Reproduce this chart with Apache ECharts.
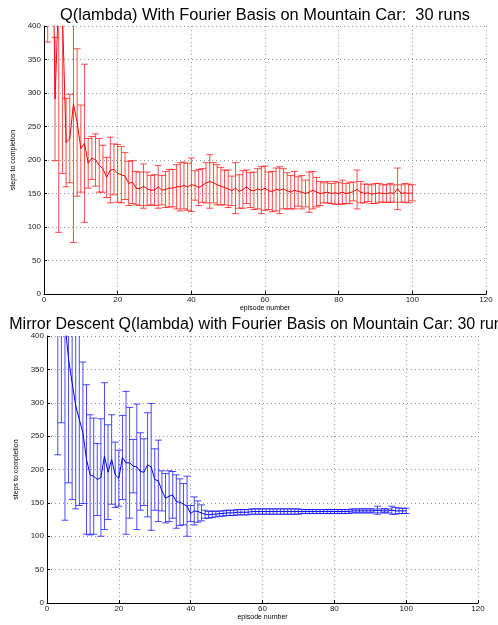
<!DOCTYPE html>
<html>
<head>
<meta charset="utf-8">
<script src="https://cdn.jsdelivr.net/npm/echarts@6/dist/echarts.min.js"></script>
<style>
  html, body { margin: 0; padding: 0; background: #fff; }
  #main { width: 498px; height: 625px; }
</style>
</head>
<body>
<div id="main"></div>
<script>
// episodes 1..100
var episodes = [];
for (var i = 1; i <= 100; i++) episodes.push(i);

// Q(lambda): mean steps and error half-width per episode
var qMean = [620, 700, 291, 450, 420, 226, 232, 284, 256, 217,
  225, 195, 203, 200, 192, 187, 174, 185, 186, 180,
  178, 176, 165, 167, 158, 157, 161, 157, 155, 155,
  160, 155, 156, 158, 158, 160, 160, 162, 160, 163,
  162, 159, 162, 166, 168, 166, 163, 161, 159, 157,
  154, 158, 153, 156, 160, 155, 154, 157, 155, 158,
  154, 153, 156, 155, 157, 154, 152, 155, 153, 152,
  150, 152, 155, 152, 150, 151, 152, 150, 151, 150,
  152, 150, 151, 153, 156, 152, 150, 151, 149, 150,
  151, 150, 150, 151, 150, 157, 150, 151, 150, 151];
var qErr = [244, 250, 92, 358, 240, 66, 66, 207, 110, 65,
  118, 37, 32, 39, 40, 35, 30, 49, 38, 43,
  42, 35, 33, 32, 25, 25, 33, 25, 22, 23,
  32, 22, 27, 28, 28, 33, 36, 35, 35, 40,
  22, 27, 25, 30, 40, 30, 30, 28, 26, 28,
  22, 38, 25, 28, 25, 26, 28, 30, 35, 33,
  28, 30, 32, 35, 30, 27, 25, 28, 22, 25,
  20, 30, 28, 22, 18, 15, 16, 15, 17, 16,
  18, 15, 16, 14, 29, 16, 14, 13, 14, 15,
  14, 13, 13, 14, 13, 31, 13, 14, 14, 12];

// Mirror Descent Q(lambda)
var mdMean = [900, 750, 520, 480, 420, 365, 330, 295, 275, 255,
  215, 192, 190, 185, 188, 220, 196, 215, 192, 187,
  218, 210, 210, 205, 204, 197, 196, 207, 204, 185,
  183, 168, 157, 160, 162, 152, 151, 148, 145, 134,
  138, 137, 135, 133, 132, 133, 133, 134, 134, 135,
  135, 135, 136, 136, 136, 136, 137, 137, 137, 137,
  137, 137, 137, 137, 137, 137, 137, 137, 137, 137,
  137, 137, 137, 137, 137, 137, 137, 137, 137, 137,
  137, 137, 137, 137, 138, 138, 138, 138, 138, 138,
  138, 139, 138, 138, 138, 139, 138, 138, 138, 138];
var mdErr = [350, 300, 298, 210, 296, 185, 175, 154, 129, 106,
  112, 90, 87, 54, 88, 110, 71, 67, 49, 42,
  63, 107, 83, 40, 94, 58, 50, 78, 95, 46,
  61, 30, 37, 38, 35, 40, 35, 31, 45, 12,
  21, 16, 12, 6, 5, 5, 4, 4, 4, 4,
  4, 4, 4, 4, 4, 4, 4, 4, 4, 4,
  4, 4, 4, 4, 4, 4, 4, 4, 4, 4,
  3, 3, 3, 3, 3, 3, 3, 3, 3, 3,
  3, 3, 3, 3, 3, 3, 3, 3, 3, 3,
  3, 6, 3, 3, 3, 6, 5, 4, 4, 4];

var xTicks = [0, 20, 40, 60, 80, 100, 120];
var yTicks = [0, 50, 100, 150, 200, 250, 300, 350, 400];

var FONT = 'Liberation Sans, Arial, Helvetica, sans-serif';

function pairs(mean) {
  return episodes.map(function (e, i) { return [e, mean[i]]; });
}
function bars(mean, err) {
  return episodes.map(function (e, i) { return [e, mean[i] - err[i], mean[i] + err[i]]; });
}

function errItem(params, api) {
  var x = api.value(0);
  var top = api.coord([x, api.value(2)]);
  var bot = api.coord([x, api.value(1)]);
  var hw = 3.5;
  var st = { stroke: api.visual('color'), lineWidth: 1 };
  return {
    type: 'group',
    children: [
      { type: 'line', shape: { x1: top[0], y1: top[1], x2: bot[0], y2: bot[1] }, style: st },
      { type: 'line', shape: { x1: top[0] - hw, y1: top[1], x2: top[0] + hw, y2: top[1] }, style: st },
      { type: 'line', shape: { x1: bot[0] - hw, y1: bot[1], x2: bot[0] + hw, y2: bot[1] }, style: st }
    ]
  };
}

function xAx(idx, gap) {
  return {
    gridIndex: idx, type: 'value', min: xTicks[0], max: xTicks[xTicks.length - 1], interval: 20,
    name: 'episode number', nameLocation: 'middle', nameGap: gap,
    nameTextStyle: { fontSize: 7, color: '#000', fontFamily: FONT },
    axisLine: { onZero: false, lineStyle: { color: '#000', width: 1 } },
    axisTick: { inside: true, length: 3, lineStyle: { color: '#000' } },
    axisLabel: { fontSize: 8, color: '#222', margin: 2, fontFamily: FONT },
    splitLine: { show: true, lineStyle: { color: '#999', type: [1, 3], width: 1 } }
  };
}
function yAx(idx) {
  return {
    gridIndex: idx, type: 'value', min: yTicks[0], max: yTicks[yTicks.length - 1], interval: 50,
    name: 'steps to completion', nameLocation: 'middle', nameGap: 20, nameRotate: 90,
    nameTextStyle: { fontSize: 7, color: '#000', fontFamily: FONT },
    axisLine: { show: true, lineStyle: { color: '#000', width: 1 } },
    axisTick: { show: true, inside: true, length: 3, lineStyle: { color: '#000' } },
    axisLabel: { fontSize: 8, color: '#222', margin: 3, fontFamily: FONT },
    splitLine: { show: true, lineStyle: { color: '#999', type: [1, 3], width: 1 } }
  };
}

var chart = echarts.init(document.getElementById('main'));
var option = {
  animation: false,
  backgroundColor: '#fff',
  graphic: [
    { type: 'text', x: 265, y: 15, style: { text: 'Q(lambda) With Fourier Basis on Mountain Car:  30 runs', font: '16.4px ' + FONT, fill: '#000', align: 'center', verticalAlign: 'middle' } },
    { type: 'text', x: 260, y: 325, style: { text: 'Mirror Descent Q(lambda) with Fourier Basis on Mountain Car: 30 runs', font: '16px ' + FONT, fill: '#000', align: 'center', verticalAlign: 'middle' } }
  ],
  grid: [
    { left: 44, top: 26, width: 442, height: 268 },
    { left: 47, top: 336, width: 431, height: 267 }
  ],
  xAxis: [xAx(0, 10), xAx(1, 11)],
  yAxis: [yAx(0), yAx(1)],
  series: [
    { type: 'custom', xAxisIndex: 0, yAxisIndex: 0, clip: true, renderItem: errItem,
      itemStyle: { color: 'rgba(255,0,0,0.7)' }, data: bars(qMean, qErr), z: 2 },
    { type: 'line', xAxisIndex: 0, yAxisIndex: 0, data: pairs(qMean), showSymbol: false,
      lineStyle: { color: '#ff0000', width: 1 }, clip: true, z: 3 },
    { type: 'custom', xAxisIndex: 1, yAxisIndex: 1, clip: true, renderItem: errItem,
      itemStyle: { color: 'rgba(0,0,255,0.7)' }, data: bars(mdMean, mdErr), z: 2 },
    { type: 'line', xAxisIndex: 1, yAxisIndex: 1, data: pairs(mdMean), showSymbol: false,
      lineStyle: { color: '#0000ff', width: 1 }, clip: true, z: 3 }
  ]
};
chart.setOption(option);
</script>
</body>
</html>
